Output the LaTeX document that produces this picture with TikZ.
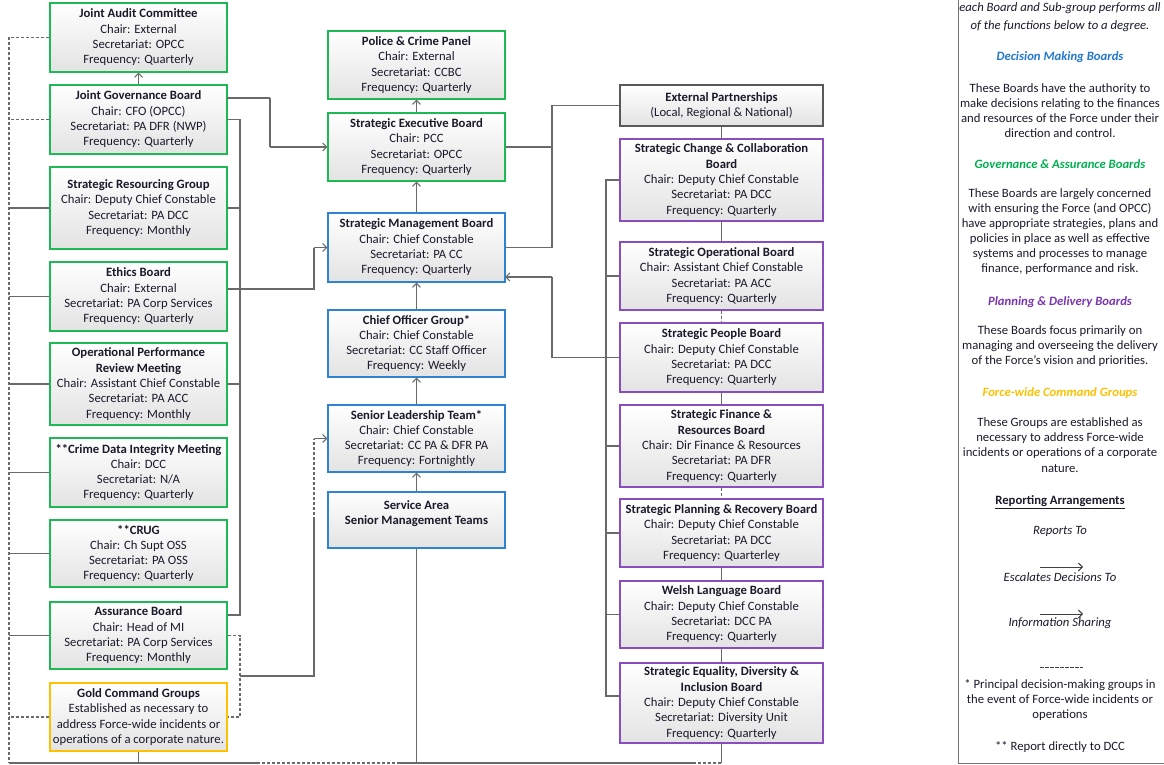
\documentclass[tikz,border=0pt]{standalone}
\usepackage{fontspec}
\setmainfont{Carlito}
\usetikzlibrary{arrows.meta,calc}
\definecolor{gbd}{HTML}{1DB954}
\definecolor{bbd}{HTML}{2F84D2}
\definecolor{pbd}{HTML}{8A4CBE}
\definecolor{obd}{HTML}{FFC000}
\definecolor{ebd}{HTML}{595959}
\definecolor{ln}{HTML}{6A6A6A}
\definecolor{tx}{HTML}{1A1A2A}
\definecolor{hblue}{HTML}{2277D0}
\definecolor{hgreen}{HTML}{00B050}
\definecolor{hpurple}{HTML}{7A35B0}
\definecolor{horange}{HTML}{FFC000}
\begin{document}
\begin{tikzpicture}[x=1pt,y=-1pt,
  box/.style={draw, line width=1.1pt, top color=white, bottom color=black!11,
    align=center, inner sep=0pt, text=tx, font=\fontsize{12.7}{15.3}\selectfont},
  lbox/.style={box, minimum width=177pt},
  rbox/.style={box, minimum width=203pt},
  gbox/.style={draw=gbd},
  bbox/.style={draw=bbd},
  pbox/.style={draw=pbd},
  obox/.style={draw=obd},
  ebox/.style={draw=ebd},
  line/.style={ln, line width=1.1pt},
  dline/.style={line, dash pattern=on 3pt off 2pt},
  arr/.style={line, -{Straight Barb[length=4pt,width=8pt]}},
  darr/.style={dline, -{Straight Barb[length=4pt,width=8pt]}},
  ltxt/.style={align=center, text=tx, font=\fontsize{12.7}{15.1}\selectfont, inner sep=0pt},
  lhead/.style={ltxt, font=\fontsize{12.7}{15.1}\selectfont\bfseries\itshape}
]
\useasboundingbox (0,0) rectangle (1164,765);

% ---------- left column ----------
\node[lbox,gbox,minimum height=69pt] (jac) at (138.5,37.5) {\textbf{Joint Audit Committee}\\Chair: External\\Secretariat: OPCC\\Frequency: Quarterly};
\node[lbox,gbox,minimum height=69pt] (jgb) at (138.5,119.5) {\textbf{Joint Governance Board}\\Chair: CFO (OPCC)\\Secretariat: PA DFR (NWP)\\Frequency: Quarterly};
\node[lbox,gbox,minimum height=82pt] (srg) at (138.5,208) {\textbf{Strategic Resourcing Group}\\Chair: Deputy Chief Constable\\Secretariat: PA DCC\\Frequency: Monthly};
\node[lbox,gbox,minimum height=69pt] (eth) at (138.5,296.5) {\textbf{Ethics Board}\\Chair: External\\Secretariat: PA Corp Services\\Frequency: Quarterly};
\node[lbox,gbox,minimum height=82pt] (oprm) at (138.5,384) {\textbf{Operational Performance}\\\textbf{Review Meeting}\\Chair: Assistant Chief Constable\\Secretariat: PA ACC\\Frequency: Monthly};
\node[lbox,gbox,minimum height=69pt] (cdim) at (138.5,472.5) {\textbf{**Crime Data Integrity Meeting}\\Chair: DCC\\Secretariat: N/A\\Frequency: Quarterly};
\node[lbox,gbox,minimum height=67pt] (crug) at (138.5,553.5) {\textbf{**CRUG}\\Chair: Ch Supt OSS\\Secretariat: PA OSS\\Frequency: Quarterly};
\node[lbox,gbox,minimum height=67pt] (ass) at (138.5,635.5) {\textbf{Assurance Board}\\Chair: Head of MI\\Secretariat: PA Corp Services\\Frequency: Monthly};
\node[lbox,obox,minimum height=68pt] (gold) at (138.5,717) {\textbf{Gold Command Groups}\\Established as necessary to\\address Force-wide incidents or\\operations of a corporate nature.};

% ---------- middle column ----------
\node[lbox,gbox,minimum height=68pt] (pcp) at (416.5,65) {\textbf{Police \& Crime Panel}\\Chair: External\\Secretariat: CCBC\\Frequency: Quarterly};
\node[lbox,gbox,minimum height=68pt] (seb) at (416.5,147) {\textbf{Strategic Executive Board}\\Chair: PCC\\Secretariat: OPCC\\Frequency: Quarterly};
\node[lbox,bbox,minimum height=69pt] (smb) at (416.5,247.5) {\textbf{Strategic Management Board}\\Chair: Chief Constable\\Secretariat: PA CC\\Frequency: Quarterly};
\node[lbox,bbox,minimum height=67pt] (cog) at (416.5,343.5) {\textbf{Chief Officer Group*}\\Chair: Chief Constable\\Secretariat: CC Staff Officer\\Frequency: Weekly};
\node[lbox,bbox,minimum height=67pt] (slt) at (416.5,438.5) {\textbf{Senior Leadership Team*}\\Chair: Chief Constable\\Secretariat: CC PA \& DFR PA\\Frequency: Fortnightly};
\node[lbox,bbox,minimum height=56pt] (sa) at (416.5,520) {\textbf{Service Area}\\\textbf{Senior Management Teams}\\\mbox{}};

% ---------- right column ----------
\node[rbox,ebox,line width=1.3pt,minimum height=41pt] (ep) at (721.5,105.5) {\textbf{External Partnerships}\\(Local, Regional \& National)};
\node[rbox,pbox,minimum height=82pt] (sccb) at (721.5,180) {\textbf{Strategic Change \& Collaboration}\\\textbf{Board}\\Chair: Deputy Chief Constable\\Secretariat: PA DCC\\Frequency: Quarterly};
\node[rbox,pbox,minimum height=68pt] (sob) at (721.5,276) {\textbf{Strategic Operational Board}\\Chair: Assistant Chief Constable\\Secretariat: PA ACC\\Frequency: Quarterly};
\node[rbox,pbox,minimum height=69pt] (spb) at (721.5,357.5) {\textbf{Strategic People Board}\\Chair: Deputy Chief Constable\\Secretariat: PA DCC\\Frequency: Quarterly};
\node[rbox,pbox,minimum height=82pt] (sfrb) at (721.5,446) {\textbf{Strategic Finance \&}\\\textbf{Resources Board}\\Chair: Dir Finance \& Resources\\Secretariat: PA DFR\\Frequency: Quarterly};
\node[rbox,pbox,minimum height=68pt] (sprb) at (721.5,533) {\textbf{Strategic Planning \& Recovery Board}\\Chair: Deputy Chief Constable\\Secretariat: PA DCC\\Frequency: Quarterley};
\node[rbox,pbox,minimum height=67pt] (wlb) at (721.5,614.5) {\textbf{Welsh Language Board}\\Chair: Deputy Chief Constable\\Secretariat: DCC PA\\Frequency: Quarterly};
\node[rbox,pbox,minimum height=80pt] (sedib) at (721.5,703) {\textbf{Strategic Equality, Diversity \&}\\\textbf{Inclusion Board}\\Chair: Deputy Chief Constable\\Secretariat: Diversity Unit\\Frequency: Quarterly};

% ---------- bus coordinates ----------
\coordinate (LB) at (9,763);
\coordinate (BR) at (721.5,763);
\coordinate (b1) at (257,763);
\coordinate (b2) at (398,763);
\coordinate (b3) at (693,763);

% left dashed bus
\draw[dline] (jac.west) -- (jac.west -| LB) -- (LB);
\draw[dline] (jgb.west) -- (jgb.west -| LB);
\foreach \n in {srg,eth,oprm,cdim,crug,ass}{\draw[line] (\n.west) -- (\n.west -| LB);}
\draw[dline] (gold.west) -- (gold.west -| LB);
\draw[line] (gold.south) -- (gold.south |- LB);
% bottom line
\draw[line] (LB) -- (b1);
\draw[dline] (b1) -- (b2);
\draw[line] (b2) -- (b3);
\draw[dline] (b3) -- (BR);
\draw[line] (sedib.south) -- (BR);
\draw[line] (sa.south) -- (sa.south |- LB);

% left column right bus (x=240)
\coordinate (rbTop) at (240,119.5);
\coordinate (rbBot) at (240,615);
\draw[line] (jgb.east) -- (rbTop) -- (rbBot) -- (rbBot -| ass.east);
\draw[line] (srg.east) -- (srg.east -| rbTop);
\draw[line] (oprm.east) -- (oprm.east -| rbTop);
\coordinate (ethOut) at ($(eth.east)+(0,-7.5)$);
\coordinate (ethK) at (314,289);
\coordinate (ethK2) at (314,247.5);
\draw[line] (ethOut) -- (ethK) -- (ethK2);
\draw[arr] (ethK2) -- (smb.west);
\coordinate (jgbOut) at (227,98);
\coordinate (jgbK) at (270,98);
\coordinate (jgbK2) at (270,147);
\draw[line] (jgbOut) -- (jgbK);
\draw[line] (jgbK) -- (jgbK2);
\draw[arr] (jgbK2) -- (seb.west);
\draw[arr] (jgb.north) -- (jac.south);
% assurance <-> gold dashed bracket
\draw[dline] (ass.east) -- (ass.east -| rbTop) -- (gold.east -| rbTop) -- (gold.east);
\coordinate (gk1) at (240,676);
\coordinate (gk2) at (314,676);
\coordinate (gk3) at (314,520);
\coordinate (gk4) at (314,438.5);
\draw[line] (gk1) -- (gk2) -- (gk3);
\draw[dline] (gk3) -- (gk4);
\draw[arr] (gk4) -- (slt.west);

% middle arrows
\draw[arr] (seb.north) -- (pcp.south);
\draw[arr] (smb.north) -- (seb.south);
\draw[arr] (cog.north) -- (smb.south);
\draw[arr] (slt.north) -- (cog.south);
\draw[arr] (sa.north) -- (slt.south);

% middle to right
\coordinate (mxT) at (552,105.5);
\coordinate (mx) at (552,247.5);
\draw[line] (ep.west) -- (mxT) -- (mx) -- (smb.east);
\draw[line] (seb.east) -- (seb.east -| mx);
\coordinate (smbIn) at (505,277);
\coordinate (spK1) at (552,357.5);
\coordinate (spK2) at (552,277);
\draw[line] (spb.west) -- (spK1) -- (spK2);
\draw[arr] (spK2) -- (smbIn);

% right column left bus (x=606)
\coordinate (rcTop) at (606,180);
\coordinate (sedIn) at ($(sedib.west)+(0,-7)$);
\draw[line] (sccb.west) -- (rcTop) -- (rcTop |- sedIn) -- (sedIn);
\foreach \n in {sob,spb,sfrb,sprb,wlb}{\draw[line] (\n.west) -- (\n.west -| rcTop);}

% right column vertical links
\draw[line] (ep.south) -- (sccb.north);
\draw[line] (sccb.south) -- (sob.north);
\draw[dline] (sob.south) -- (spb.north);
\draw[line] (spb.south) -- (sfrb.north);
\draw[dline] (sfrb.south) -- (sprb.north);
\draw[line] (sprb.south) -- (wlb.north);
\draw[line] (wlb.south) -- (sedib.north);

% ---------- legend ----------
\draw[black!55, line width=1pt] (958,-5) rectangle (1175,763);
\node[ltxt,font=\fontsize{12.7}{15.1}\selectfont\itshape] (lg0) at (1060,8) {each Board and Sub-group performs all};
\node[ltxt,font=\fontsize{12.7}{15.1}\selectfont\itshape] (lg0b) at (1060,26.5) {of the functions below to a degree.};
\node[lhead,text=hblue] (h1) at (1060,57) {Decision Making Boards};
\node[ltxt] (p1) at (1060,110.5) {These Boards have the authority to\\make decisions relating to the finances\\and resources of the Force under their\\direction and control.};
\node[lhead,text=hgreen] (h2) at (1060,164) {Governance \& Assurance Boards};
\node[ltxt] (p2) at (1060,231.5) {These Boards are largely concerned\\with ensuring the Force (and OPCC)\\have appropriate strategies, plans and\\policies in place as well as effective\\systems and processes to manage\\finance, performance and risk.};
\node[lhead,text=hpurple] (h3) at (1060,302) {Planning \& Delivery Boards};
\node[ltxt] (p3) at (1060,346.5) {These Boards focus primarily on\\managing and overseeing the delivery\\of the Force’s vision and priorities.};
\node[lhead,text=horange] (h4) at (1060,393) {Force-wide Command Groups};
\node[ltxt] (p4) at (1060,445) {These Groups are established as\\necessary to address Force-wide\\incidents or operations of a corporate\\nature.};
\node[ltxt,font=\fontsize{12.7}{15.1}\selectfont\bfseries] (h5) at (1060,502) {\underline{Reporting Arrangements}};
\node[ltxt,font=\fontsize{12.7}{15.1}\selectfont\itshape] (r1) at (1060,531) {Reports To};
\node[ltxt,font=\fontsize{12.7}{15.1}\selectfont\itshape] (r2) at (1060,577) {Escalates Decisions To};
\node[ltxt,font=\fontsize{12.7}{15.1}\selectfont\itshape] (r3) at (1060,623) {Information Sharing};
\coordinate (a1s) at (1040,567);
\coordinate (a1e) at (1083,567);
\coordinate (a2s) at (1040,614);
\coordinate (a2e) at (1083,614);
\coordinate (a3s) at (1040,667);
\coordinate (a3e) at (1083,667);
\draw[arr,black!75,line width=0.9pt] (a1s) -- (a1e);
\draw[arr,black!75,line width=0.9pt] (a2s) -- (a2e);
\draw[black!75,line width=0.9pt,dash pattern=on 4pt off 1pt] (a3s) -- (a3e);
\node[ltxt] (p5) at (1060,700) {* Principal decision-making groups in\\the event of Force-wide incidents or\\operations};
\node[ltxt] (p6) at (1060,747) {** Report directly to DCC};
\end{tikzpicture}
\end{document}
